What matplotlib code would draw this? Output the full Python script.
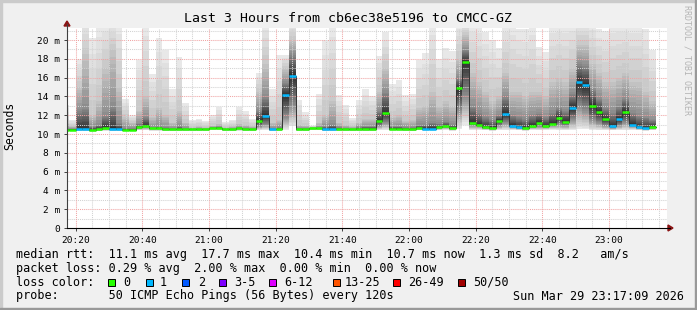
import numpy as np
import matplotlib
matplotlib.use("Agg")
import matplotlib.pyplot as plt
from matplotlib.patches import Rectangle, Polygon
from matplotlib.lines import Line2D

W, H = 697, 310
MONO = "DejaVu Sans Mono"

title = "Last 3 Hours from cb6ec38e5196 to CMCC-GZ"
x_tick_minutes = [0, 20, 40, 60, 80, 100, 120, 140, 160]
x_tick_labels = ["20:20", "20:40", "21:00", "21:20", "21:40", "22:00", "22:20", "22:40", "23:00"]
y_tick_values = [0, 2, 4, 6, 8, 10, 12, 14, 16, 18, 20]
y_tick_labels = ["0", "2 m", "4 m", "6 m", "8 m", "10 m", "12 m", "14 m", "16 m", "18 m", "20 m"]

# step start times, minutes after 20:20 (120 s steps)
step_start = list(range(-4, 174, 2))

# median rtt (ms)
median = [10.45, 10.45, 10.5, 10.5, 10.4, 10.5, 10.6, 10.5, 10.5, 10.45,
          10.45, 10.7, 10.85, 10.6, 10.6, 10.5, 10.5, 10.5, 10.5, 10.5,
          10.5, 10.5, 10.65, 10.65, 10.5, 10.5, 10.6, 10.5, 10.5, 11.4,
          11.95, 10.5, 10.5, 14.1, 16.2, 10.5, 10.5, 10.6, 10.6, 10.5,
          10.5, 10.5, 10.5, 10.5, 10.5, 10.5, 10.5, 11.4, 12.2, 10.55,
          10.55, 10.5, 10.5, 10.6, 10.55, 10.55, 10.7, 10.8, 10.6, 14.85,
          17.7, 11.15, 10.95, 10.7, 10.6, 11.4, 12.1, 10.85, 10.7, 10.6,
          10.85, 11.2, 10.85, 11.1, 11.7, 11.3, 12.8, 15.5, 15.25, 13.0,
          12.3, 11.55, 10.8, 11.55, 12.3, 10.95, 10.7, 10.6, 10.7]
# lost pings per step (of 50)
lost = [0, 0, 1, 1, 0, 0, 0, 1, 1, 0,
        0, 0, 0, 0, 0, 0, 0, 0, 0, 0,
        0, 0, 0, 0, 0, 0, 0, 0, 0, 0,
        1, 1, 0, 1, 1, 0, 0, 0, 0, 1,
        1, 0, 0, 0, 0, 0, 0, 0, 0, 0,
        0, 0, 0, 0, 1, 1, 0, 0, 0, 0,
        0, 0, 0, 0, 0, 0, 1, 1, 1, 0,
        0, 0, 0, 0, 0, 0, 1, 1, 1, 0,
        0, 0, 1, 1, 0, 1, 1, 1, 0]
# smoke: max ping
ping_max = [13.1, 11.5, 18.0, 22.0, 20.2, 22.0, 22.0, 22.0, 22.0, 13.7,
            12.0, 17.9, 22.0, 16.4, 20.2, 18.9, 14.8, 18.2, 13.3, 11.5,
            11.6, 11.4, 12.0, 12.9, 11.3, 11.5, 12.9, 12.4, 11.6, 16.5,
            22.0, 14.8, 18.4, 18.4, 22.0, 13.6, 12.3, 10.9, 14.3, 20.0,
            22.0, 14.1, 13.1, 11.7, 13.6, 14.8, 14.0, 18.3, 20.8, 15.3,
            15.7, 14.1, 14.3, 17.9, 18.6, 22.0, 18.0, 19.2, 18.8, 22.0,
            22.0, 22.0, 22.0, 20.8, 20.0, 19.1, 22.0, 22.0, 21.2, 21.2,
            22.0, 19.3, 18.7, 22.0, 22.0, 22.0, 22.0, 22.0, 22.0, 22.0,
            21.2, 21.0, 22.0, 22.0, 22.0, 22.0, 22.0, 21.2, 18.9]
# 90th percentile ping
ping_p90 = [11.2, 10.8, 15.0, 18.5, 12.0, 13.5, 17.0, 19.0, 15.0, 11.8,
            11.2, 12.5, 14.0, 11.8, 12.8, 12.0, 11.2, 12.5, 11.2, 10.7,
            10.8, 10.7, 10.9, 11.1, 10.7, 10.8, 11.1, 11.0, 10.8, 14.5,
            17.5, 11.2, 11.5, 17.0, 20.0, 11.0, 10.9, 10.75, 11.2, 12.0,
            13.5, 11.2, 11.0, 10.8, 11.2, 11.6, 11.6, 14.5, 17.0, 11.8,
            12.0, 11.4, 11.5, 12.8, 13.0, 14.5, 13.0, 13.5, 13.0, 18.0,
            20.5, 16.5, 15.5, 14.5, 13.5, 14.0, 16.5, 14.5, 14.5, 14.0,
            14.5, 14.5, 14.0, 15.5, 16.0, 15.5, 17.0, 19.5, 19.5, 17.5,
            16.5, 15.5, 15.5, 16.0, 16.5, 15.5, 15.5, 14.5, 13.5]
# 75th percentile ping
ping_p75 = [10.55, 10.55, 12.5, 12.8, 10.8, 11.0, 12.0, 13.0, 11.2, 10.6,
            10.6, 11.1, 11.8, 10.7, 10.8, 10.7, 10.6, 10.8, 10.6, 10.55,
            10.55, 10.55, 10.7, 10.75, 10.55, 10.55, 10.7, 10.6, 10.55, 12.5,
            14.0, 10.6, 10.7, 15.5, 18.5, 10.6, 10.6, 10.65, 10.7, 10.8,
            11.0, 10.7, 10.6, 10.55, 10.7, 10.8, 10.8, 12.5, 14.5, 10.8,
            10.8, 10.7, 10.7, 11.0, 11.0, 11.2, 11.1, 11.3, 11.0, 16.0,
            19.0, 13.0, 12.3, 11.8, 11.5, 12.0, 14.0, 12.0, 11.8, 11.6,
            12.0, 12.2, 11.8, 12.3, 12.8, 12.5, 14.3, 17.5, 17.3, 14.8,
            13.8, 12.8, 12.3, 13.0, 13.8, 12.3, 12.0, 11.8, 11.5]
# 25th percentile ping
ping_p25 = [10.4, 10.4, 10.45, 10.45, 10.35, 10.45, 10.5, 10.45, 10.45, 10.4,
            10.4, 10.6, 10.7, 10.55, 10.55, 10.45, 10.45, 10.45, 10.45, 10.45,
            10.45, 10.45, 10.6, 10.6, 10.45, 10.45, 10.55, 10.45, 10.45, 10.8,
            11.0, 10.45, 10.45, 11.8, 13.0, 10.45, 10.45, 10.55, 10.55, 10.45,
            10.45, 10.45, 10.45, 10.45, 10.45, 10.45, 10.45, 10.9, 11.2, 10.5,
            10.5, 10.45, 10.45, 10.55, 10.5, 10.5, 10.6, 10.7, 10.55, 12.5,
            14.0, 10.9, 10.8, 10.6, 10.55, 10.9, 11.2, 10.7, 10.6, 10.55,
            10.7, 10.8, 10.7, 10.9, 11.0, 10.9, 11.5, 13.0, 12.5, 11.5,
            11.2, 10.9, 10.65, 10.9, 11.2, 10.8, 10.6, 10.55, 10.6]
# min ping
ping_min = [10.3, 10.3, 10.3, 10.3, 10.25, 10.3, 10.35, 10.3, 10.3, 10.3,
            10.3, 10.4, 10.4, 10.35, 10.35, 10.3, 10.3, 10.3, 10.3, 10.3,
            10.3, 10.3, 10.4, 10.4, 10.3, 10.3, 10.35, 10.3, 10.3, 10.4,
            10.4, 10.3, 10.3, 10.4, 10.8, 10.3, 10.3, 10.4, 10.4, 10.3,
            10.3, 10.3, 10.3, 10.3, 10.3, 10.3, 10.3, 10.4, 10.4, 10.35,
            10.35, 10.3, 10.3, 10.4, 10.35, 10.35, 10.4, 10.45, 10.35, 10.5,
            11.0, 10.4, 10.45, 10.4, 10.35, 10.4, 10.4, 10.45, 10.4, 10.35,
            10.45, 10.4, 10.45, 10.45, 10.4, 10.4, 10.4, 10.5, 10.5, 10.4,
            10.4, 10.4, 10.4, 10.4, 10.4, 10.45, 10.4, 10.35, 10.4]

loss_labels = ["0", "1", "2", "3-5", "6-12", "13-25", "26-49", "50/50"]
loss_colors = ["#26ff00", "#00b8ff", "#0059ff", "#7e00ff", "#dd00ff", "#ff5500", "#ff0000", "#a10000"]

legend_rtt = "median rtt:  11.1 ms avg  17.7 ms max  10.4 ms min  10.7 ms now  1.3 ms sd  8.2   am/s"
legend_loss = "packet loss: 0.29 % avg  2.00 % max  0.00 % min  0.00 % now"
legend_probe = "probe:       50 ICMP Echo Pings (56 Bytes) every 120s"
legend_date = "Sun Mar 29 23:17:09 2026"

# ---------------------------------------------------------------- figure
fig = plt.figure(figsize=(W / 100, H / 100), dpi=100)
fig.patch.set_facecolor("#f0f0f0")

def fx(x):
    return x / W

def fy(y):
    return 1 - y / H

PL, PR, PT, PB = 67, 667, 28, 228
ax = fig.add_axes([fx(PL), fy(PB), (PR - PL) / W, (PB - PT) / H])
ax.set_facecolor("white")
ax.set_xlim(-2.6, 177.4)
ax.set_ylim(0, (PB - PT) / 9.4)

t = np.array(step_start, float)
xe = np.append(t, t[-1] + 2)

def ext(a):
    a = np.asarray(a, float)
    return np.append(a, a[-1])

med = np.array(median, float)
hi = np.array(ping_max, float)
p90 = np.array(ping_p90, float)
p75 = np.array(ping_p75, float)
p25 = np.array(ping_p25, float)
lo = np.array(ping_min, float)

def blend(r, pts, arrs):
    for j in range(len(pts) - 1):
        if pts[j] <= r <= pts[j + 1]:
            w = (r - pts[j]) / (pts[j + 1] - pts[j])
            return arrs[j] * (1 - w) + arrs[j + 1] * w
    return arrs[-1]

# smokeping style smoke: 25 nested layers, darker toward the median
for i in range(1, 26):
    r = i - 1
    top = blend(r, [0, 5, 12.5, 25], [hi, p90, p75, med])
    bot = blend(r, [0, 12.5, 25], [lo, p25, med])
    g = (int(190 / 25 * (25 - i)) + 50) / 255
    ax.fill_between(xe, ext(bot), ext(top), step="post", color=(g, g, g),
                    linewidth=0, zorder=1)

# grid
MAJ = "#f0a4a4"
MIN = "#d2d2d2"
for v in range(1, 22):
    ax.axhline(v, color=MAJ if v % 2 == 0 else MIN, lw=0.75,
               ls=(0, (1, 1)), zorder=2)
for m in range(0, 178, 5):
    ax.axvline(m, color=MAJ if m % 20 == 0 else MIN, lw=0.75,
               ls=(0, (1, 1)), zorder=2)

# median
ax.step(xe, ext(med), where="post", color="#323232", lw=0.7, zorder=3)
seg_cols = [loss_colors[1] if l == 1 else loss_colors[0] for l in lost]
ax.hlines(med, t, t + 2, colors=seg_cols, lw=1.8, zorder=4)

# axes styling
for s in ["top", "right", "left", "bottom"]:
    ax.spines[s].set_visible(False)
ax.set_yticks(y_tick_values)
ax.set_yticklabels(y_tick_labels, fontfamily=MONO, fontsize=6.8)
ax.set_xticks(x_tick_minutes)
ax.set_xticklabels(x_tick_labels, fontfamily=MONO, fontsize=6.8)
ax.tick_params(axis="y", length=2.5, width=0.7, pad=2.5, color="#404040")
ax.tick_params(axis="x", length=2, width=0.7, pad=3.5, color="#404040")

# axis lines with arrows (figure coords)
fig.add_artist(Line2D([fx(PL), fx(PL)], [fy(PB), fy(24)], color="#404040", lw=0.8))
fig.add_artist(Line2D([fx(PL), fx(670)], [fy(PB), fy(PB)], color="#000000", lw=0.8))
ARW = "#8b1414"
fig.add_artist(Polygon([[fx(PL - 3), fy(26)], [fx(PL + 3), fy(26)], [fx(PL), fy(21)]],
                       closed=True, color=ARW, transform=fig.transFigure))
fig.add_artist(Polygon([[fx(668), fy(PB - 3)], [fx(668), fy(PB + 3)], [fx(673), fy(PB)]],
                       closed=True, color=ARW, transform=fig.transFigure))

# texts
fig.text(fx(348), fy(19), title, ha="center", va="center", fontfamily=MONO, fontsize=9.5)
fig.text(fx(10), fy(126), "Seconds", rotation=90, ha="center", va="center",
         fontfamily=MONO, fontsize=8.3)
fig.text(fx(686.5), fy(60), "RRDTOOL / TOBI OETIKER", rotation=270, ha="center",
         va="center", fontfamily=MONO, fontsize=6, color="#b4b4b4")

LX = 16
fig.text(fx(LX), fy(254.3), legend_rtt, ha="left", va="center", fontfamily=MONO, fontsize=8.5)
fig.text(fx(LX), fy(268.3), legend_loss, ha="left", va="center", fontfamily=MONO, fontsize=8.5)
fig.text(fx(LX), fy(282.3), "loss color:", ha="left", va="center", fontfamily=MONO, fontsize=8.5)
fig.text(fx(LX), fy(296), legend_probe, ha="left", va="center", fontfamily=MONO, fontsize=8.5)
fig.text(fx(513), fy(296), legend_date, ha="left", va="center", fontfamily=MONO, fontsize=8.5)

box_x = [108.3, 145.7, 182.3, 219.3, 269.3, 333.3, 393.3, 458.3]
lab_x = [123.3, 160.0, 197.7, 234.3, 284.3, 345.0, 408.3, 473.3]
for bx, lx, lab, c in zip(box_x, lab_x, loss_labels, loss_colors):
    fig.add_artist(Rectangle((fx(bx), fy(286)), 7 / W, 7 / H, facecolor=c,
                             edgecolor="black", lw=0.7, transform=fig.transFigure))
    fig.text(fx(lx), fy(282.3), lab, ha="left", va="center", fontfamily=MONO, fontsize=8.5)

# 3D frame
fig.add_artist(Rectangle((0, 1 - 2 / H), 1, 2 / H, color="#cbcbcb", transform=fig.transFigure))
fig.add_artist(Rectangle((0, 0), 2 / W, 1, color="#cbcbcb", transform=fig.transFigure))
fig.add_artist(Rectangle((0, 0), 1, 2 / H, color="#999999", transform=fig.transFigure))
fig.add_artist(Rectangle((1 - 2 / W, 0), 2 / W, 1, color="#999999", transform=fig.transFigure))

fig.savefig("out.png", dpi=100, facecolor=fig.get_facecolor())
